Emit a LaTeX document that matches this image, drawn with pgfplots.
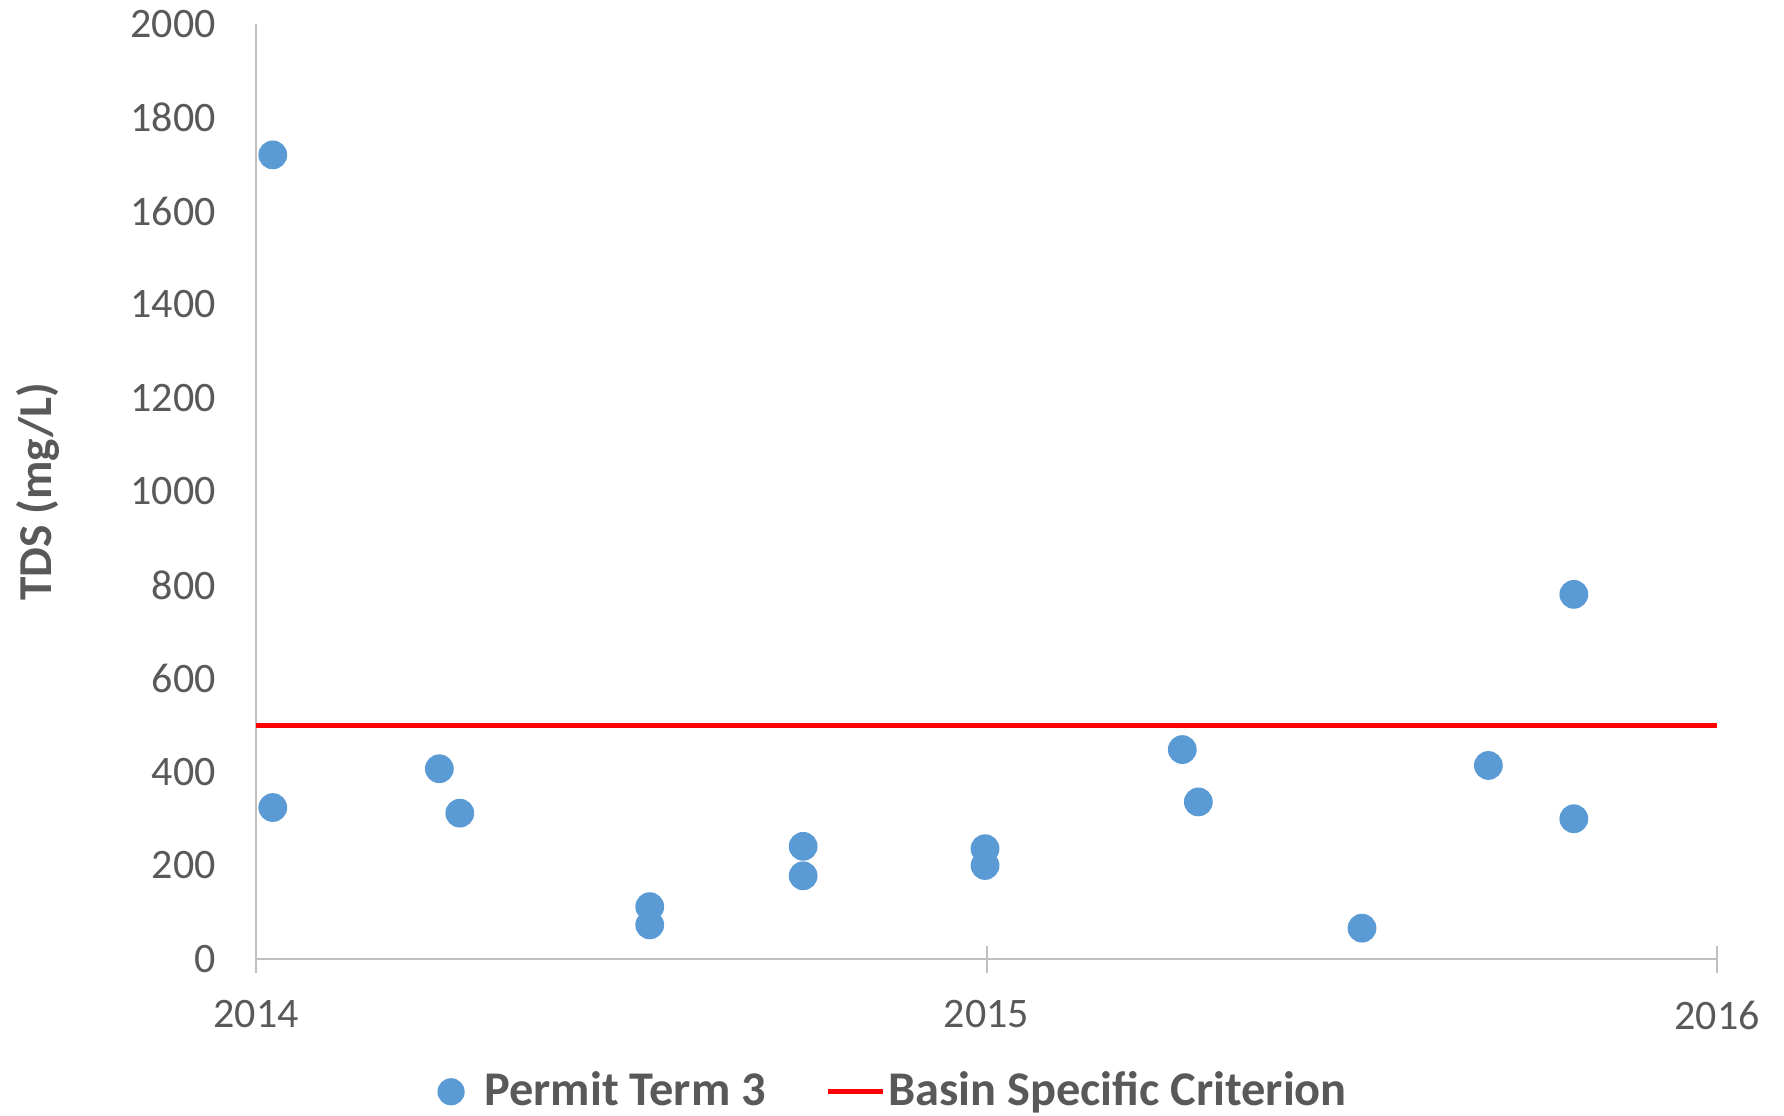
\documentclass[border=0pt]{standalone}
\usepackage{pgfplots}
\pgfplotsset{compat=1.18}
\usepackage{fontspec}
\setmainfont{Carlito}
\definecolor{txt}{HTML}{595959}
\definecolor{ax}{HTML}{BFBFBF}
\definecolor{dot}{HTML}{5B9BD5}
\begin{document}
\begin{tikzpicture}
\useasboundingbox (-64pt,-39pt) rectangle (382pt,239.75pt);
\begin{axis}[
  at={(0,0)}, anchor=south west,
  scale only axis, width=365.25pt, height=233.75pt,
  xmin=2014, xmax=2016, ymin=0, ymax=2000,
  xtick={2014,2015,2016}, ytick={0,200,...,2000},
  xticklabels={2014,2015,2016},
  /pgf/number format/assume math mode=true,
  /pgf/number format/1000 sep={},
  axis lines*=left,
  axis line style={ax, line width=0.5pt},
  x axis line style={-}, y axis line style={-},
  xtick style={ax, line width=0.5pt},
  ytick style={draw=none},
  xtick pos=bottom, tick align=center, major tick length=6.75pt,
  tick label style={font=\fontsize{10.5}{12}\selectfont, text=txt},
  yticklabel style={xshift=-3.2pt},
  xticklabel style={yshift=-3.5pt},
  ylabel={TDS (mg/L)},
  ylabel style={font=\fontsize{11.8}{13}\selectfont\bfseries, text=txt, at={(axis description cs:-0.1495,0.5)}, anchor=center, rotate=0},
  legend columns=2,
  legend style={draw=none, fill=none, font=\fontsize{12.1}{13}\selectfont\bfseries, text=txt,
    at={(rel axis cs:0.4353,-0.142)}, anchor=center,
    nodes={inner xsep=1.5pt},
    /tikz/every even column/.append style={column sep=14pt}},
  clip=false,
]
\addplot[only marks, mark=*, mark size=3.4pt, mark options={draw=dot, fill=dot},
  legend image code/.code={\path[draw=none, fill=none] (0,0) rectangle (11.8pt,0.1pt); \fill[dot, draw=none] (5pt,0) circle (3.4pt);}] coordinates {
(2014.023,1720) (2014.023,324) (2014.251,407) (2014.279,312)
(2014.539,112) (2014.539,73) (2014.749,241) (2014.749,178)
(2014.998,236) (2014.998,200) (2015.268,448) (2015.290,336)
(2015.514,66) (2015.687,414) (2015.804,780) (2015.804,300)
};
\addlegendentry{Permit Term 3}
\addplot[red, line width=1.2pt, legend image code/.code={\path[draw=none] (0,0) rectangle (13.5pt,0.1pt); \draw[overlay, red, line width=1.2pt] (0pt,0) -- (13.7pt,0);}] coordinates {(2014,500) (2016,500)};
\addlegendentry{Basin Specific Criterion}
\end{axis}
\end{tikzpicture}
\end{document}
